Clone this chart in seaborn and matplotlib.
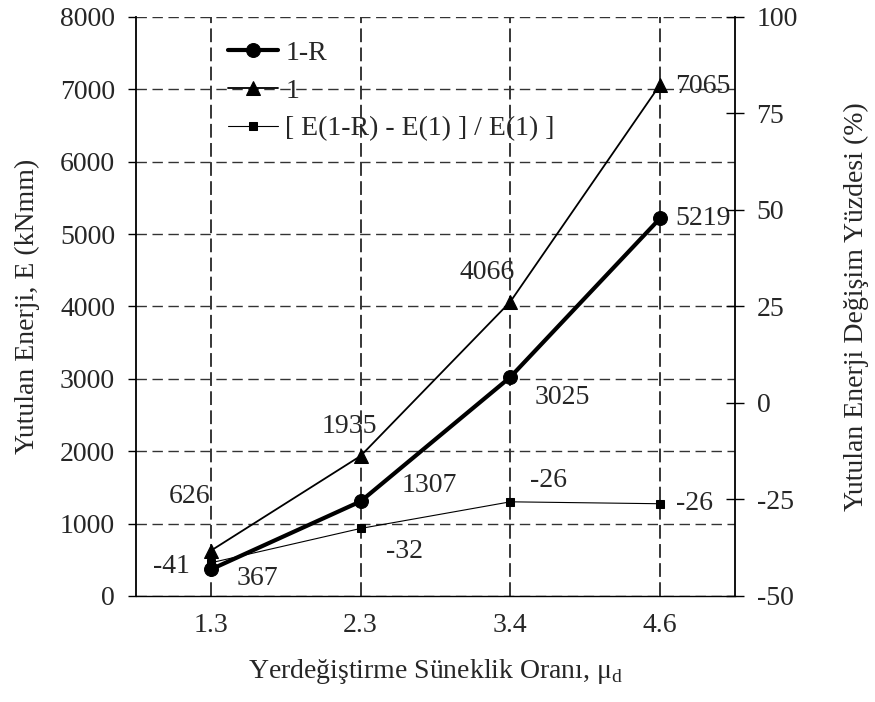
import pandas as pd
import seaborn as sns
import matplotlib.pyplot as plt

# data
mu_d = ['1.3', '2.3', '3.4', '4.6']
e_1r = [367, 1307, 3025, 5219]
e_1 = [626, 1935, 4066, 7065]
pct = [-41.4, -32.5, -25.6, -26.1]

df = pd.DataFrame({'pos': range(len(mu_d)), 'mu': mu_d,
                   'e_1r': e_1r, 'e_1': e_1, 'pct': pct})

sns.set_style('white')
plt.rcParams['font.family'] = ['Liberation Serif', 'DejaVu Serif']
plt.rcParams['mathtext.fontset'] = 'custom'
plt.rcParams['mathtext.rm'] = 'Liberation Serif'
plt.rcParams['axes.unicode_minus'] = False
plt.rcParams['font.size'] = 20

fig = plt.figure(figsize=(8.75, 7.02), dpi=100)
ax = fig.add_axes([0.1554, 0.151, 0.6846, 0.8248])
ax2 = ax.twinx()

sns.lineplot(data=df, x='pos', y='e_1r', ax=ax, color='k', lw=3,
             marker='o', markersize=10, markeredgecolor='k', label='1-R', legend=False)
sns.lineplot(data=df, x='pos', y='e_1', ax=ax, color='k', lw=1.3,
             marker='^', markersize=10, markeredgecolor='k', label='1', legend=False)
sns.lineplot(data=df, x='pos', y='pct', ax=ax2, color='k', lw=0.8,
             marker='s', markersize=6, markeredgecolor='k',
             label='[ E(1-R) - E(1) ] / E(1) ]', legend=False)

# axes ranges / ticks
ax.set_xlim(-0.5, 3.5)
ax.set_ylim(0, 8000)
ax2.set_ylim(-50, 100)
ax.set_xticks(df['pos'])
ax.set_xticklabels(mu_d)
ax.set_yticks(range(0, 8001, 1000))
ax2.set_yticks(range(-50, 101, 25))

ax.xaxis.grid(True, color='k', lw=1.1, linestyle=(0, (9, 3.5)))
ax.yaxis.grid(True, color='#333333', lw=1.0, linestyle=(0, (7.5, 4)))
ax.tick_params(axis='x', length=0, pad=12)
ax.tick_params(axis='y', direction='out', length=6, width=1, color='k', pad=9, left=True)
ax2.tick_params(axis='y', direction='inout', length=13, width=1, color='k', pad=9, right=True)

for s in ['top', 'right']:
    ax.spines[s].set_visible(False)
for s in ['top', 'left', 'bottom']:
    ax2.spines[s].set_visible(False)
ax.spines['left'].set_color('k')
ax.spines['left'].set_linewidth(1.3)
ax.spines['bottom'].set_color('k')
ax.spines['bottom'].set_linewidth(1.0)
ax2.spines['right'].set_color('k')
ax2.spines['right'].set_linewidth(1.3)

ax.set_xlabel('Yerdeğiştirme Süneklik Oranı, μ$_\\mathrm{d}$', labelpad=14)
ax.set_ylabel('Yutulan Enerji, E (kNmm)')
ax2.set_ylabel('Yutulan Enerji Değişim Yüzdesi (%)')
ax.yaxis.set_label_coords(-0.16, 0.5)
ax2.yaxis.set_label_coords(1.182, 0.5)

# value labels (offsets in pixels)
off_1r = [(47, -9), (69, 16), (52, -20), (43, 0)]
off_1 = [(-21, 54), (-11, 29), (-23, 29), (43, -2)]
off_p = [(-39, -4), (44, -23), (38, 21), (34, 0)]
for i in range(len(mu_d)):
    ax.annotate(f'{e_1r[i]}', (i, e_1r[i]), xytext=off_1r[i], textcoords='offset pixels',
                ha='center', va='center')
    ax.annotate(f'{e_1[i]}', (i, e_1[i]), xytext=off_1[i], textcoords='offset pixels',
                ha='center', va='center')
    ax2.annotate(f'{pct[i]:.0f}', (i, pct[i]), xytext=off_p[i], textcoords='offset pixels',
                 ha='center', va='center')

h1, l1 = ax.get_legend_handles_labels()
h2, l2 = ax2.get_legend_handles_labels()
ax2.legend(h1 + h2, l1 + l2, loc='upper left', bbox_to_anchor=(0.154, 0.96),
           frameon=False, borderpad=0, borderaxespad=0, handlelength=1.8,
           handletextpad=0.25, labelspacing=0.45)

plt.savefig('out.png', dpi=100)
plt.close()
